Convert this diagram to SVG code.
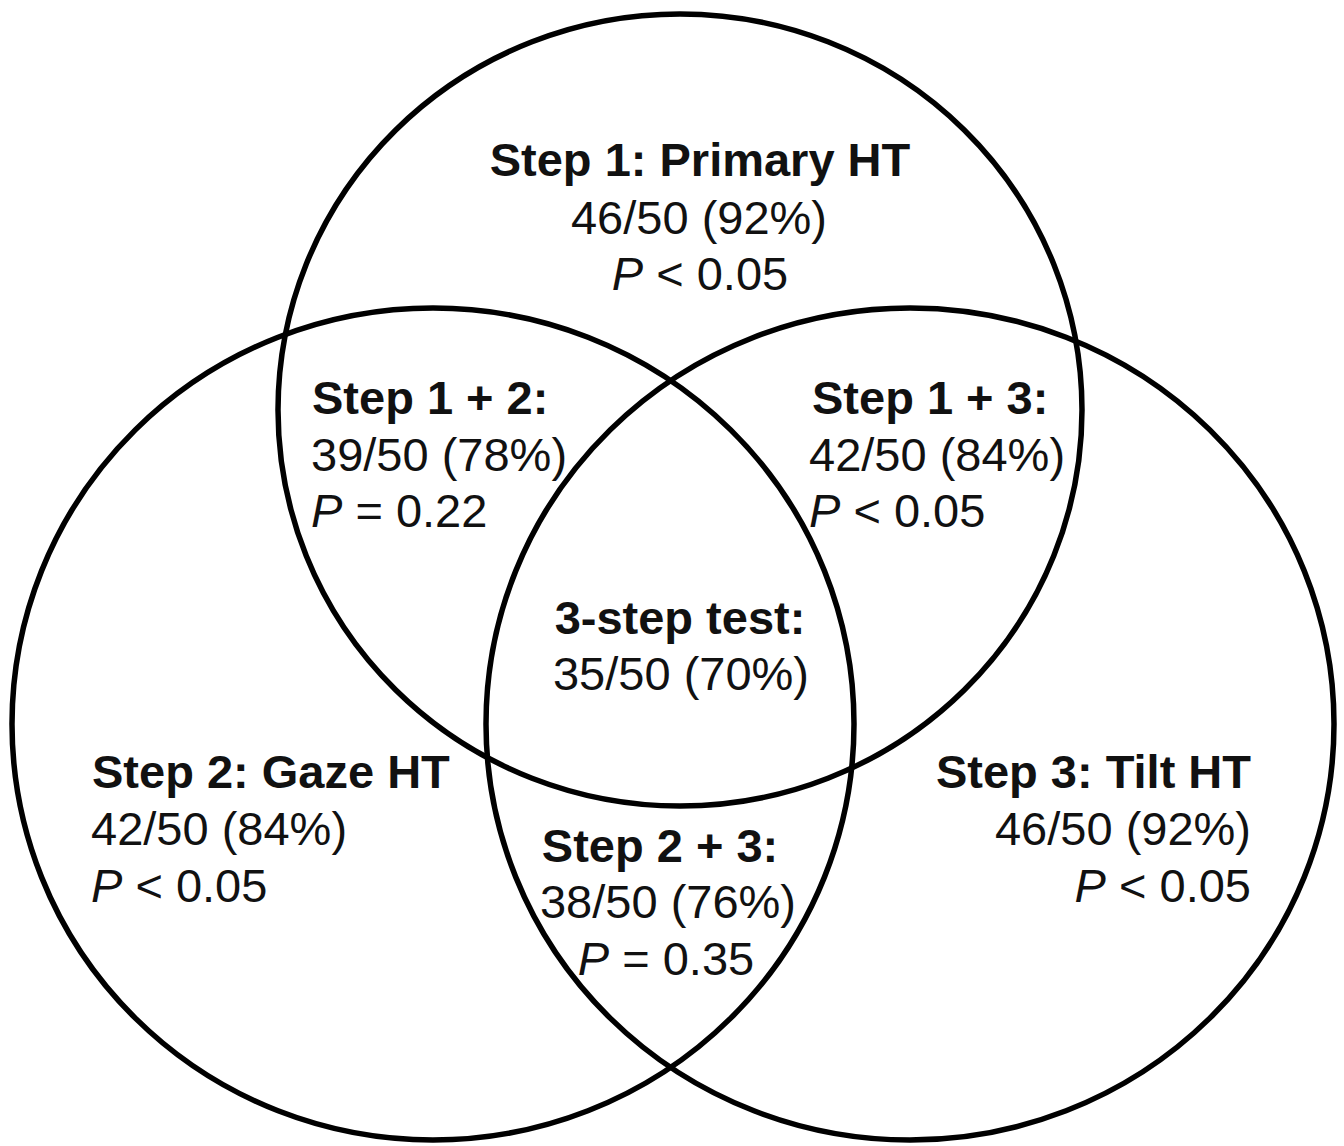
<svg xmlns="http://www.w3.org/2000/svg" width="1344" height="1146" viewBox="0 0 1344 1146">
<style>
.c{fill:none;stroke:#000;stroke-width:5.5}
text{font-family:"Liberation Sans",Arial,sans-serif;font-size:47px;fill:#111}
.b{font-weight:bold}
.m{text-anchor:middle}
.e{text-anchor:end}
.i{font-style:italic}
</style>
<rect width="1344" height="1146" fill="#fff"/>
<g id="circles">
<ellipse id="step1" class="c" cx="680" cy="410" rx="402" ry="396"/>
<ellipse id="step2" class="c" cx="433" cy="724" rx="421" ry="416"/>
<ellipse id="step3" class="c" cx="910" cy="724" rx="424" ry="416"/>
</g>
<g id="label-step1">
<text class="b m" x="700" y="176">Step 1: Primary HT</text>
<text class="m" x="699" y="234">46/50 (92%)</text>
<text class="m" x="700" y="290"><tspan class="i">P</tspan> &lt; 0.05</text>
</g>
<g id="label-step12">
<text class="b" x="312" y="414">Step 1 + 2:</text>
<text x="311" y="471">39/50 (78%)</text>
<text x="311" y="527"><tspan class="i">P</tspan> = 0.22</text>
</g>
<g id="label-step13">
<text class="b" x="812" y="414">Step 1 + 3:</text>
<text x="809" y="471">42/50 (84%)</text>
<text x="809" y="527"><tspan class="i">P</tspan> &lt; 0.05</text>
</g>
<g id="label-all">
<text class="b m" x="680" y="634">3-step test:</text>
<text class="m" x="681" y="690">35/50 (70%)</text>
</g>
<g id="label-step2">
<text class="b" x="92" y="788">Step 2: Gaze HT</text>
<text x="91" y="845">42/50 (84%)</text>
<text x="91" y="902"><tspan class="i">P</tspan> &lt; 0.05</text>
</g>
<g id="label-step3">
<text class="b e" x="1251" y="788">Step 3: Tilt HT</text>
<text class="e" x="1251" y="845">46/50 (92%)</text>
<text class="e" x="1251" y="902"><tspan class="i">P</tspan> &lt; 0.05</text>
</g>
<g id="label-step23">
<text class="b m" x="660" y="862">Step 2 + 3:</text>
<text class="m" x="668" y="918">38/50 (76%)</text>
<text class="m" x="666" y="975"><tspan class="i">P</tspan> = 0.35</text>
</g>
</svg>
